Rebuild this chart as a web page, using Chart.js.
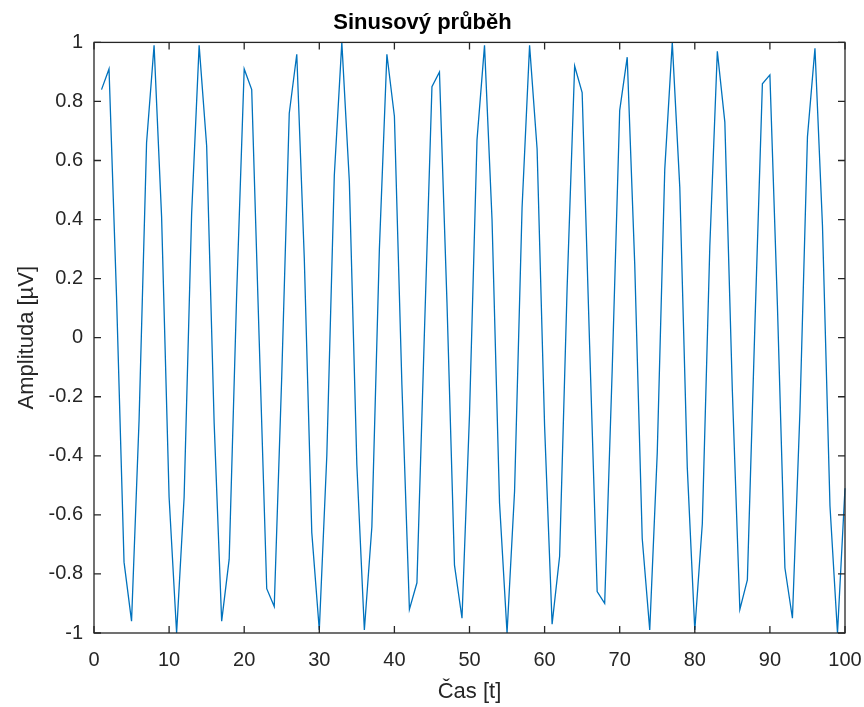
<!DOCTYPE html>
<html lang="cs">
<head>
  <meta charset="UTF-8">
  <title>Sinusový průběh</title>
  <script src="https://cdn.jsdelivr.net/npm/chart.js"></script>
  <style>
    html, body { margin: 0; padding: 0; background: #fff; }
    #wrap { width: 864px; height: 707px; }
  </style>
</head>
<body>
<div id="wrap"><canvas id="sinChart" width="864" height="707"></canvas></div>

<script>
  // time samples and amplitude
  const casT = [
    1, 2, 3, 4, 5, 6, 7, 8, 9, 10,
    11, 12, 13, 14, 15, 16, 17, 18, 19, 20,
    21, 22, 23, 24, 25, 26, 27, 28, 29, 30,
    31, 32, 33, 34, 35, 36, 37, 38, 39, 40,
    41, 42, 43, 44, 45, 46, 47, 48, 49, 50,
    51, 52, 53, 54, 55, 56, 57, 58, 59, 60,
    61, 62, 63, 64, 65, 66, 67, 68, 69, 70,
    71, 72, 73, 74, 75, 76, 77, 78, 79, 80,
    81, 82, 83, 84, 85, 86, 87, 88, 89, 90,
    91, 92, 93, 94, 95, 96, 97, 98, 99, 100
  ];
  const amplituda = [
    0.84, 0.91, 0.14, -0.76, -0.96, -0.28, 0.66, 0.99, 0.41, -0.54,
    -1.00, -0.54, 0.42, 0.99, 0.65, -0.29, -0.96, -0.75, 0.15, 0.91,
    0.84, -0.01, -0.85, -0.91, -0.13, 0.76, 0.96, 0.27, -0.66, -0.99,
    -0.40, 0.55, 1.00, 0.53, -0.43, -0.99, -0.64, 0.30, 0.96, 0.75,
    -0.16, -0.92, -0.83, 0.02, 0.85, 0.90, 0.12, -0.77, -0.95, -0.26,
    0.67, 0.99, 0.40, -0.56, -1.00, -0.52, 0.44, 0.99, 0.64, -0.30,
    -0.97, -0.74, 0.17, 0.92, 0.83, -0.03, -0.86, -0.90, -0.11, 0.77,
    0.95, 0.25, -0.68, -0.99, -0.39, 0.57, 1.00, 0.51, -0.44, -0.99,
    -0.63, 0.31, 0.97, 0.73, -0.18, -0.92, -0.82, 0.04, 0.86, 0.89,
    0.11, -0.78, -0.95, -0.25, 0.68, 0.98, 0.38, -0.57, -1.00, -0.51
  ];
  const xTicks = [0, 10, 20, 30, 40, 50, 60, 70, 80, 90, 100];
  const yTicks = [-1, -0.8, -0.6, -0.4, -0.2, 0, 0.2, 0.4, 0.6, 0.8, 1];
  const yTickLabels = ['-1', '-0.8', '-0.6', '-0.4', '-0.2', '0', '0.2', '0.4', '0.6', '0.8', '1'];

  const axisColor = '#262626';
  const fontFamily = '"Liberation Sans", Arial, Helvetica, sans-serif';

  // MATLAB style box with inward ticks
  const boxPlugin = {
    id: 'boxPlugin',
    afterDatasetsDraw(chart) {
      const { ctx, chartArea: a, scales } = chart;
      const tl = 7;
      ctx.save();
      ctx.strokeStyle = axisColor;
      ctx.lineWidth = 1.3;
      ctx.strokeRect(a.left, a.top, a.right - a.left, a.bottom - a.top);
      ctx.beginPath();
      xTicks.forEach(v => {
        const px = scales.x.getPixelForValue(v);
        ctx.moveTo(px, a.bottom); ctx.lineTo(px, a.bottom - tl);
        ctx.moveTo(px, a.top); ctx.lineTo(px, a.top + tl);
      });
      yTicks.forEach(v => {
        const py = scales.y.getPixelForValue(v);
        ctx.moveTo(a.left, py); ctx.lineTo(a.left + tl, py);
        ctx.moveTo(a.right, py); ctx.lineTo(a.right - tl, py);
      });
      ctx.stroke();
      ctx.restore();
    }
  };

  new Chart(document.getElementById('sinChart').getContext('2d'), {
    type: 'line',
    data: {
      labels: casT,
      datasets: [{
        data: casT.map((t, i) => ({ x: t, y: amplituda[i] })),
        borderColor: '#0072BD',
        borderWidth: 1.3,
        pointRadius: 0,
        tension: 0,
        fill: false,
        clip: 2
      }]
    },
    options: {
      responsive: false,
      animation: false,
      layout: { padding: { left: 0, right: 19, top: 0, bottom: 0 } },
      plugins: {
        legend: { display: false },
        tooltip: { enabled: false },
        title: {
          display: true,
          text: 'Sinusový průběh',
          color: '#000',
          font: { family: fontFamily, size: 22, weight: 'bold' },
          padding: { top: 10, bottom: 6 }
        }
      },
      scales: {
        x: {
          type: 'linear',
          min: 0,
          max: 100,
          border: { display: false },
          grid: { display: false, drawTicks: false },
          afterBuildTicks: s => { s.ticks = xTicks.map(v => ({ value: v })); },
          afterFit: s => { s.height = 74; s.paddingLeft = 0; s.paddingRight = 0; },
          ticks: {
            color: axisColor,
            padding: 15,
            maxRotation: 0,
            font: { family: fontFamily, size: 20 },
            callback: v => String(v)
          },
          title: {
            display: true,
            text: 'Čas [t]',
            color: axisColor,
            font: { family: fontFamily, size: 22 },
            padding: { top: 0, bottom: 2 }
          }
        },
        y: {
          type: 'linear',
          min: -1,
          max: 1,
          border: { display: false },
          grid: { display: false, drawTicks: false },
          afterBuildTicks: s => { s.ticks = yTicks.map(v => ({ value: v })); },
          afterFit: s => { s.width = 94; s.paddingTop = 0; s.paddingBottom = 0; },
          ticks: {
            color: axisColor,
            padding: 11,
            font: { family: fontFamily, size: 20 },
            callback: (v, i) => yTickLabels[i]
          },
          title: {
            display: true,
            text: 'Amplituda [µV]',
            color: axisColor,
            font: { family: fontFamily, size: 22 },
            padding: { top: 14, bottom: 0 }
          }
        }
      }
    },
    plugins: [boxPlugin]
  });
</script>
</body>
</html>
